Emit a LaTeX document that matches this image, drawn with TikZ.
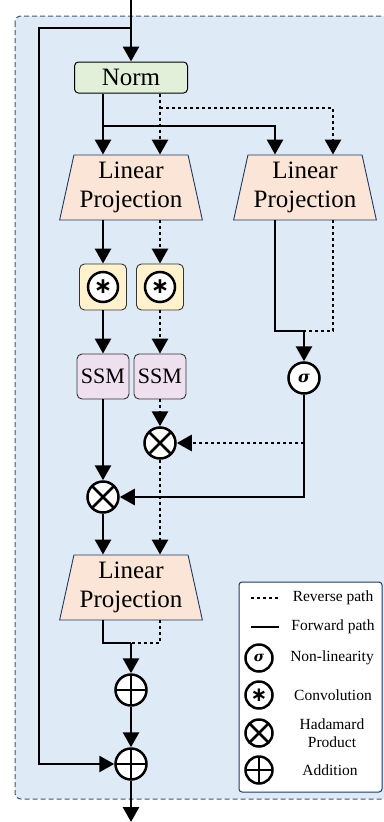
\documentclass[tikz,border=0pt]{standalone}
\usepackage{fontspec}
\setmainfont{Liberation Serif}
\newfontfamily\symsans{DejaVu Sans}
\newfontfamily\symserif{DejaVu Serif}
\usetikzlibrary{arrows.meta,shapes.geometric,calc}
\definecolor{bgblue}{HTML}{DEEAF6}
\definecolor{frame}{HTML}{44546A}
\definecolor{normfill}{HTML}{E2F0D9}
\definecolor{lpfill}{HTML}{FBE5D6}
\definecolor{lpedge}{HTML}{203864}
\definecolor{convfill}{HTML}{FFF2CC}
\definecolor{ssmfill}{HTML}{EFE0F0}
\tikzset{
  flow/.style={line width=2.8pt},
  fwd/.style={flow},
  rev/.style={flow, dash pattern=on 3pt off 3pt},
  tip/.style={-{Triangle[length=15pt,width=16pt]}},
  normbox/.style={draw=black, line width=1pt, rounded corners=4pt, fill=normfill,
    minimum width=113pt, minimum height=31pt, inner sep=0pt, font=\fontsize{25}{29}\selectfont},
  lpbox/.style={trapezium, trapezium stretches=true, trapezium left angle=75.8,
    trapezium right angle=75.8, minimum width=143pt, minimum height=65pt,
    draw=lpedge, line width=0.9pt, fill=lpfill, align=center, inner sep=0pt,
    font=\fontsize{25}{29}\selectfont},
  convbox/.style={draw=black!80, line width=0.9pt, rounded corners=5pt, fill=convfill,
    minimum width=47pt, minimum height=46pt, inner sep=0pt},
  ssmbox/.style={draw=black!80, line width=0.9pt, rounded corners=5pt, fill=ssmfill,
    minimum width=52pt, minimum height=45pt, inner sep=0pt, font=\fontsize{22}{26}\selectfont},
  opcirc/.style={circle, draw=black, fill=white, line width=2.5pt, minimum size=31pt, inner sep=0pt},
  hada/.style={opcirc, path picture={\draw[line width=2.5pt]
    (path picture bounding box.north west) -- (path picture bounding box.south east)
    (path picture bounding box.north east) -- (path picture bounding box.south west);}},
  addop/.style={opcirc, path picture={\draw[line width=2.5pt]
    (path picture bounding box.north) -- (path picture bounding box.south)
    (path picture bounding box.west) -- (path picture bounding box.east);}},
  astc/.style={opcirc, minimum size=30pt, font=\symsans\bfseries\fontsize{22}{22}\selectfont},
  sigc/.style={opcirc, font=\symserif\bfseries\itshape\fontsize{16}{16}\selectfont},
  legtext/.style={font=\fontsize{15.5}{18}\selectfont, align=center, inner sep=0pt},
}
\begin{document}
\begin{tikzpicture}[x=1pt,y=-1pt]
\useasboundingbox (0,0) rectangle (383,822);
% background frame
\draw[frame, line width=1pt, dash pattern=on 5pt off 3pt, rounded corners=6pt, fill=bgblue]
  (15,16) rectangle (390,799);

% lane coordinates
\coordinate (xf1) at (103,0);
\coordinate (xr1) at (160,0);
\coordinate (xf2) at (275,0);
\coordinate (xr2) at (333,0);

% nodes
\node[normbox] (norm) at (131,77.5) {Norm};
\node[lpbox] (lp1) at (131,187.5) {Linear\\Projection};
\node[lpbox] (lp2) at (305,187.5) {Linear\\Projection};
\node[convbox] (conv1) at (103,287) {};
\node[convbox] (conv2) at (160,287) {};
\node[astc] (c1) at (103,287) {∗};
\node[astc] (c2) at (160,287) {∗};
\node[ssmbox] (ssm1) at (103,376.5) {SSM};
\node[ssmbox] (ssm2) at (160,376.5) {SSM};
\node[sigc] (sig) at (304,378) {σ};
\node[hada] (h2) at (160,443) {};
\node[hada] (h1) at (103,497) {};
\node[lpbox] (lp3) at (131,587.5) {Linear\\Projection};
\node[addop] (add1) at (131,690) {};
\node[addop] (add2) at (131,764) {};

% junctions
\coordinate (in) at (131,0);
\coordinate (skipT) at (131,28);
\coordinate (skipL) at (39,28);
\coordinate (jf) at (103,126);
\coordinate (jr) at (160,108);
\coordinate (js) at (304,331);
\coordinate (jh) at (304,443);
\coordinate (ja) at (131,643);
\coordinate (out) at (131,822);

% connectors
\draw[fwd,tip] (in) -- (norm.north);
\draw[fwd,tip] (skipT) -- (skipL) |- (add2.west);
\draw[fwd,tip] (norm.south -| xf1) -- (lp1.north -| xf1);
\draw[fwd,tip] (jf) -| (lp2.north -| xf2);
\draw[rev,tip] (norm.south -| xr1) -- (lp1.north -| xr1);
\draw[rev,tip] (jr) -| (lp2.north -| xr2);
\draw[fwd,tip] (lp1.south -| xf1) -- (conv1.north);
\draw[rev,tip] (lp1.south -| xr1) -- (conv2.north);
\draw[fwd,tip] (conv1.south) -- (ssm1.north);
\draw[rev,tip] (conv2.south) -- (ssm2.north);
\draw[fwd,tip] (ssm1.south) -- (h1.north);
\draw[rev,tip] (ssm2.south) -- (h2.north);
\draw[fwd] (lp2.south -| xf2) |- (js);
\draw[rev] (lp2.south -| xr2) |- (js);
\draw[fwd,tip] (js) -- (sig.north);
\draw[fwd,tip] (sig.south) |- (h1.east);
\draw[rev,tip] (jh) -- (h2.east);
\draw[fwd,tip] (h1.south) -- (lp3.north -| xf1);
\draw[rev,tip] (h2.south) -- (lp3.north -| xr1);
\draw[fwd] (lp3.south -| xf1) |- (ja);
\draw[rev] (lp3.south -| xr1) |- (ja);
\draw[fwd,tip] (ja) -- (add1.north);
\draw[fwd,tip] (add1.south) -- (add2.north);
\draw[fwd,tip] (add2.south) -- (out);

% legend
\node[draw=lpedge, line width=1pt, rounded corners=3pt, fill=white,
  minimum width=143pt, minimum height=210pt, inner sep=0pt] (legend) at (310.5,687) {};
\coordinate (lr1) at (251,598);
\coordinate (lr2) at (279,598);
\coordinate (lf1) at (251,627);
\coordinate (lf2) at (279,627);
\draw[rev] (lr1) -- (lr2);
\draw[fwd] (lf1) -- (lf2);
\node[legtext] (trev) at (333,598) {Reverse path};
\node[legtext] (tfwd) at (333,627) {Forward path};
\node[sigc, minimum size=27pt, font=\symserif\bfseries\itshape\fontsize{14}{14}\selectfont] (lsig) at (259,658) {σ};
\node[legtext] (tsig) at (332,658) {Non-linearity};
\node[astc, minimum size=27pt, font=\symsans\bfseries\fontsize{20}{20}\selectfont] (lconv) at (259,695) {∗};
\node[legtext] (tconv) at (333,695) {Convolution};
\node[hada, minimum size=27pt] (lhada) at (259,733) {};
\node[legtext] (thada) at (332,733) {Hadamard\\Product};
\node[addop, minimum size=27pt] (ladd) at (259,770) {};
\node[legtext] (tadd) at (330,770) {Addition};
\end{tikzpicture}
\end{document}
